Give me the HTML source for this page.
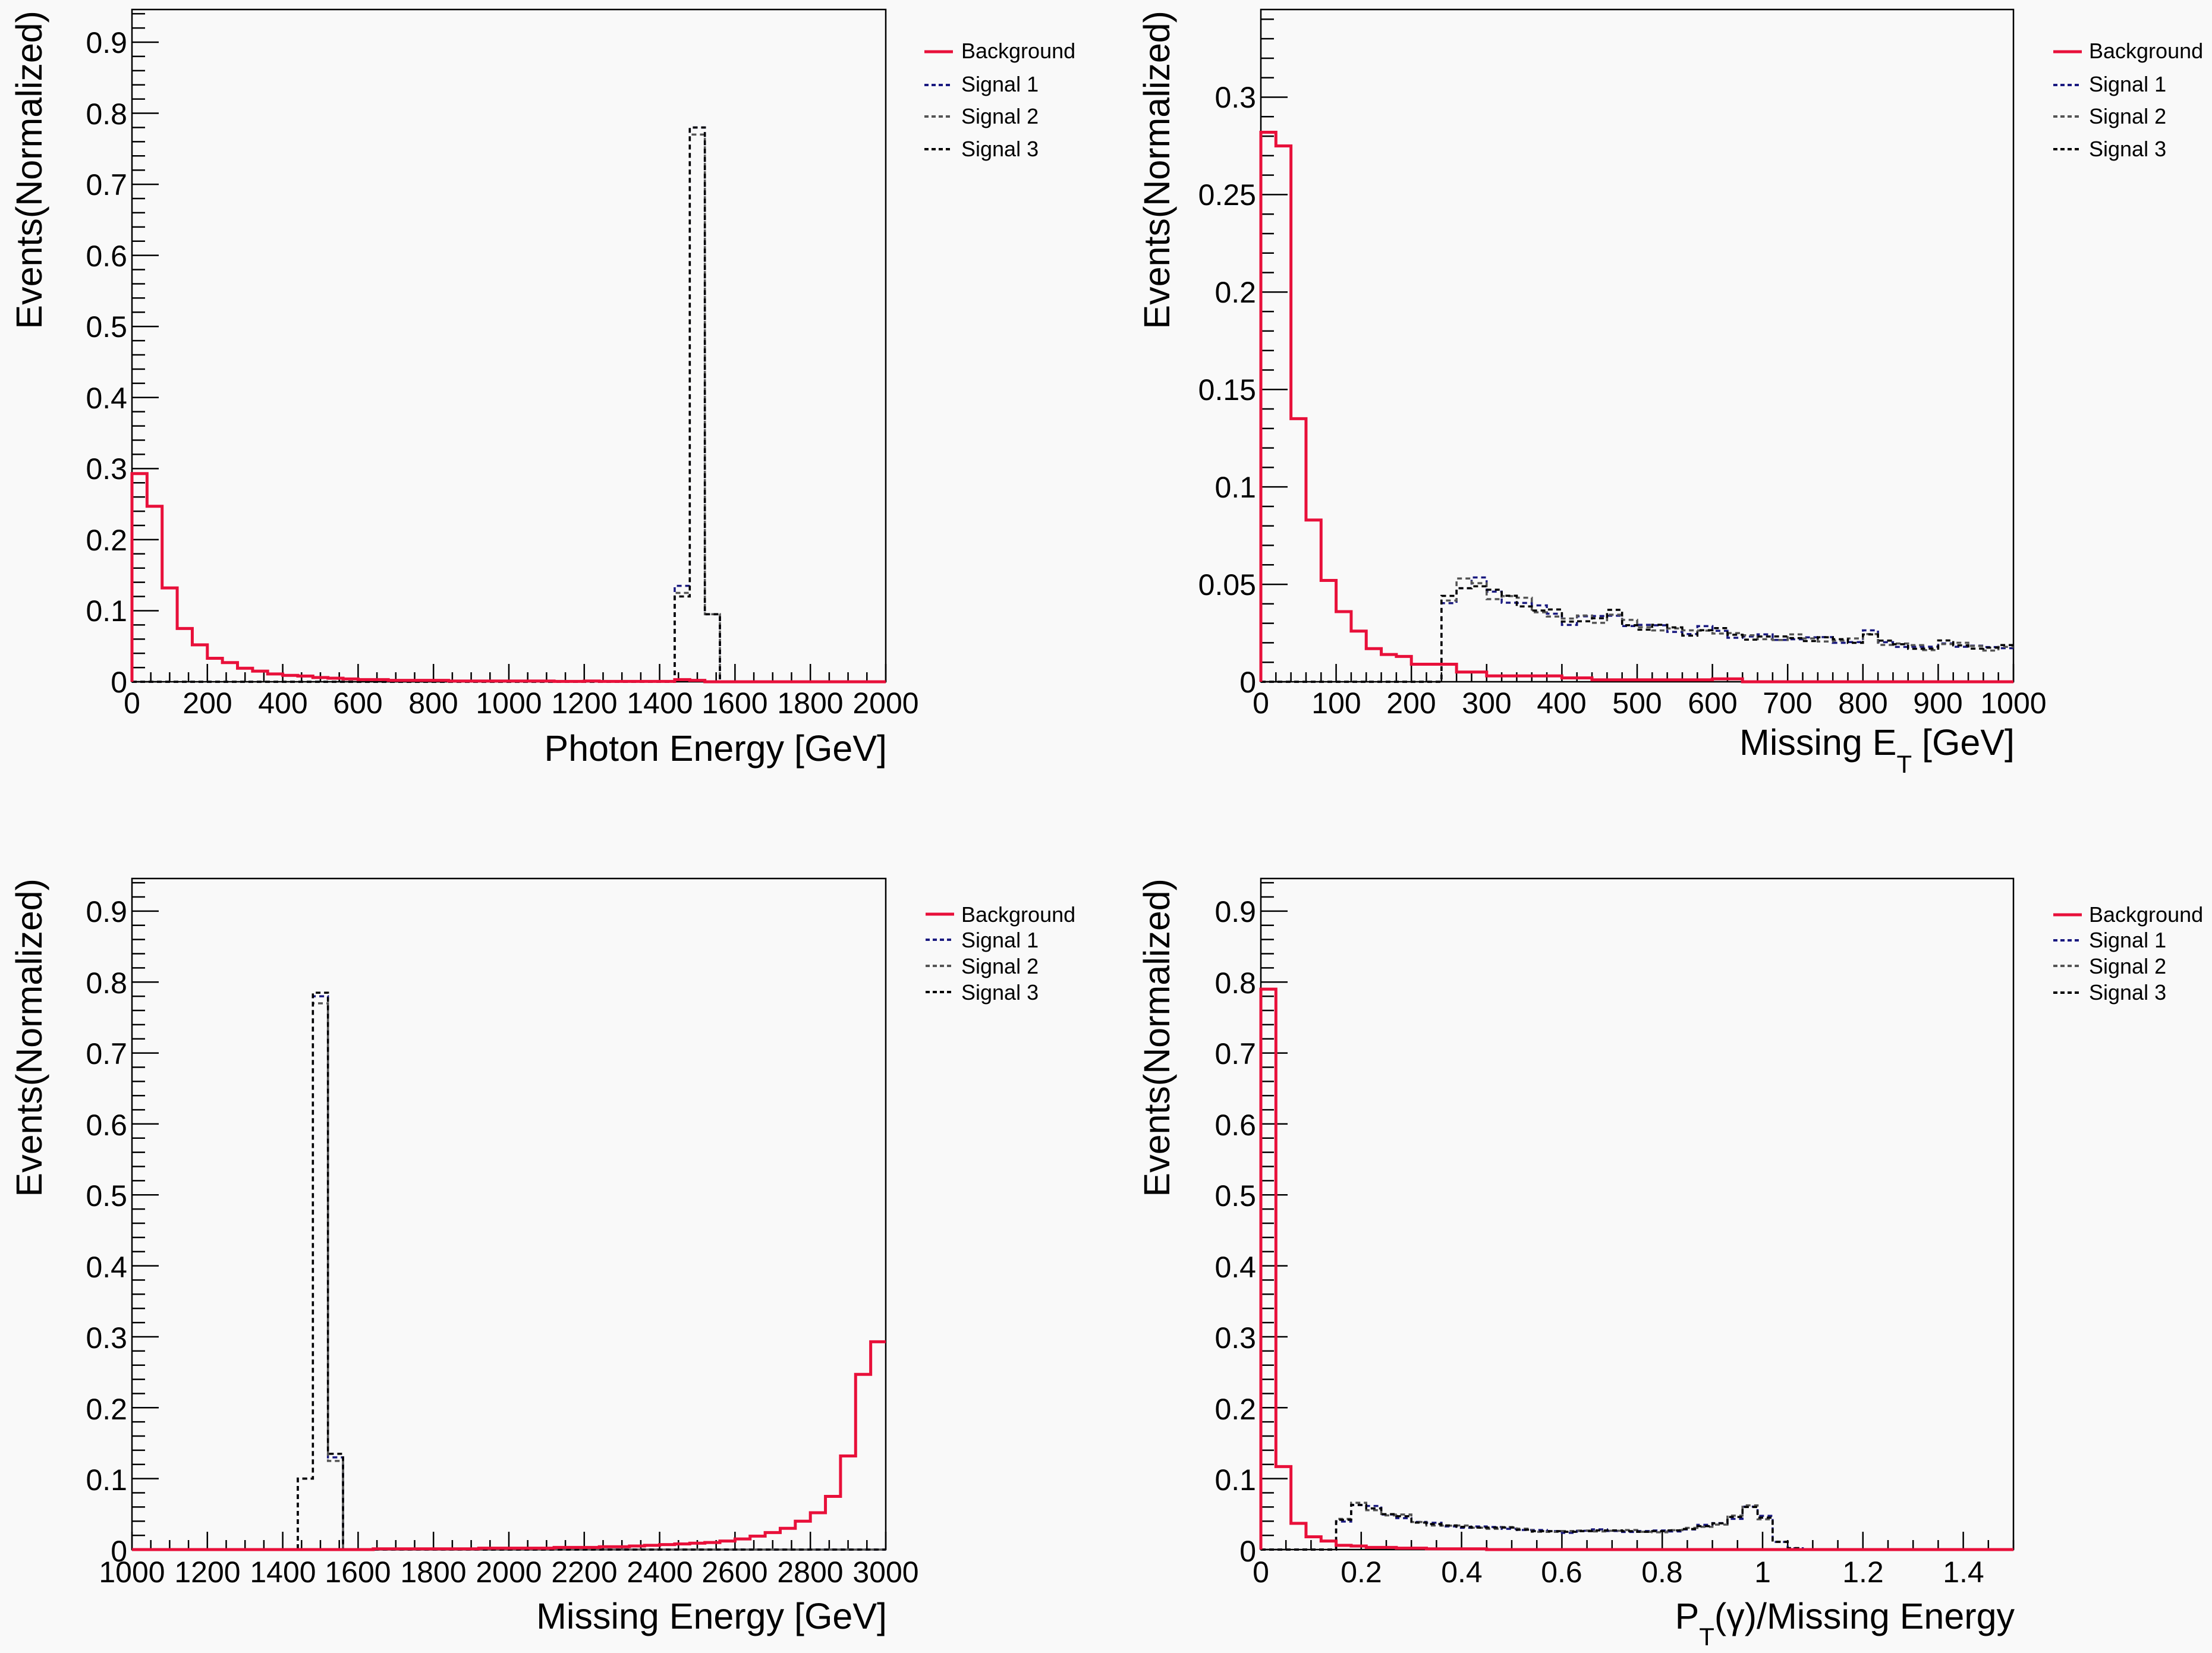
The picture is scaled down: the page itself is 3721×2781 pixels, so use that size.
<!DOCTYPE html>
<html><head><meta charset="utf-8"><style>
html,body{margin:0;padding:0;background:#f9f9f9;}
svg{display:block;}
text{font-family:"Liberation Sans",sans-serif;fill:#000;}
.tl{font-size:50px;}
.lg{font-size:36px;}
.at{font-size:61px;}
</style></head><body>
<svg id="s" width="3721" height="2781" viewBox="0 0 3721 2781" xmlns="http://www.w3.org/2000/svg">
<rect width="3721" height="2781" fill="#f9f9f9"/>
<g id="g"></g>
<g class="tl" text-anchor="end">
<text x="214" y="1165">0</text><text x="214" y="1045">0.1</text><text x="214" y="926">0.2</text><text x="214" y="806">0.3</text><text x="214" y="687">0.4</text><text x="214" y="567">0.5</text><text x="214" y="448">0.6</text><text x="214" y="328">0.7</text><text x="214" y="209">0.8</text><text x="214" y="89">0.9</text>
<text x="2113" y="1165">0</text><text x="2113" y="1001">0.05</text><text x="2113" y="837">0.1</text><text x="2113" y="673">0.15</text><text x="2113" y="509">0.2</text><text x="2113" y="345">0.25</text><text x="2113" y="181">0.3</text>
<text x="214" y="2627">0</text><text x="214" y="2507">0.1</text><text x="214" y="2388">0.2</text><text x="214" y="2268">0.3</text><text x="214" y="2149">0.4</text><text x="214" y="2029">0.5</text><text x="214" y="1910">0.6</text><text x="214" y="1790">0.7</text><text x="214" y="1671">0.8</text><text x="214" y="1551">0.9</text>
<text x="2113" y="2627">0</text><text x="2113" y="2507">0.1</text><text x="2113" y="2388">0.2</text><text x="2113" y="2268">0.3</text><text x="2113" y="2149">0.4</text><text x="2113" y="2029">0.5</text><text x="2113" y="1910">0.6</text><text x="2113" y="1790">0.7</text><text x="2113" y="1671">0.8</text><text x="2113" y="1551">0.9</text>
</g>
<g class="tl" text-anchor="middle">
<text x="222" y="1200">0</text><text x="349" y="1200">200</text><text x="476" y="1200">400</text><text x="602" y="1200">600</text><text x="729" y="1200">800</text><text x="856" y="1200">1000</text><text x="983" y="1200">1200</text><text x="1110" y="1200">1400</text><text x="1236" y="1200">1600</text><text x="1363" y="1200">1800</text><text x="1490" y="1200">2000</text>
<text x="2121" y="1200">0</text><text x="2248" y="1200">100</text><text x="2374" y="1200">200</text><text x="2501" y="1200">300</text><text x="2627" y="1200">400</text><text x="2754" y="1200">500</text><text x="2881" y="1200">600</text><text x="3007" y="1200">700</text><text x="3134" y="1200">800</text><text x="3260" y="1200">900</text><text x="3387" y="1200">1000</text>
<text x="222" y="2662">1000</text><text x="349" y="2662">1200</text><text x="476" y="2662">1400</text><text x="602" y="2662">1600</text><text x="729" y="2662">1800</text><text x="856" y="2662">2000</text><text x="983" y="2662">2200</text><text x="1110" y="2662">2400</text><text x="1236" y="2662">2600</text><text x="1363" y="2662">2800</text><text x="1490" y="2662">3000</text>
<text x="2121" y="2662">0</text><text x="2290" y="2662">0.2</text><text x="2459" y="2662">0.4</text><text x="2627" y="2662">0.6</text><text x="2796" y="2662">0.8</text><text x="2965" y="2662">1</text><text x="3134" y="2662">1.2</text><text x="3303" y="2662">1.4</text>
</g>
<g class="at" text-anchor="end">
<text x="1492" y="1280">Photon Energy [GeV]</text>
<text x="3389" y="1270">Missing E<tspan dy="30" style="font-size:42px">T</tspan><tspan dy="-30"> [GeV]</tspan></text>
<text x="1492" y="2740">Missing Energy [GeV]</text>
<text x="3389" y="2740">P<tspan dy="28" style="font-size:42px">T</tspan><tspan dy="-28">(γ)/Missing Energy</tspan></text>
<text transform="translate(70,18) rotate(-90)">Events(Normalized)</text>
<text transform="translate(1967,18) rotate(-90)">Events(Normalized)</text>
<text transform="translate(70,1478) rotate(-90)">Events(Normalized)</text>
<text transform="translate(1967,1478) rotate(-90)">Events(Normalized)</text>
</g>
<g class="lg">
<text x="1617" y="98">Background</text><text x="1617" y="154">Signal 1</text><text x="1617" y="208">Signal 2</text><text x="1617" y="263">Signal 3</text>
<text x="3514" y="98">Background</text><text x="3514" y="154">Signal 1</text><text x="3514" y="208">Signal 2</text><text x="3514" y="263">Signal 3</text>
<text x="1617" y="1551">Background</text><text x="1617" y="1594">Signal 1</text><text x="1617" y="1638">Signal 2</text><text x="1617" y="1682">Signal 3</text>
<text x="3514" y="1551">Background</text><text x="3514" y="1594">Signal 1</text><text x="3514" y="1638">Signal 2</text><text x="3514" y="1682">Signal 3</text>
</g>
</svg>
<script>
var NS="http://www.w3.org/2000/svg",G=document.getElementById("g");
function el(t,a){var e=document.createElementNS(NS,t);for(var k in a)e.setAttribute(k,a[k]);G.appendChild(e);return e;}
function panel(P){
 var L=P.L,R=P.R,T=P.T,B=P.B;
 function X(v){return L+(v-P.x0)/(P.x1-P.x0)*(R-L);}
 function Y(v){return B-v/P.ymax*(B-T);}
 var d="";
 for(var v=0;v<=P.ymax+1e-9;v+=P.ymin){var y=Y(v);var maj=Math.abs(v/P.ymaj-Math.round(v/P.ymaj))<1e-6;d+="M"+L+" "+y+"h"+(maj?45:22);}
 for(var i=0;;i++){var v=P.x0+i*P.xmin;if(v>P.x1+1e-9)break;var x=X(v);var maj=Math.abs((v-P.x0)/P.xmaj-Math.round((v-P.x0)/P.xmaj))<1e-6;d+="M"+x+" "+B+"v-"+(maj?30:16);}
 el("path",{d:d,stroke:"#000","stroke-width":2.5,fill:"none"});
 el("rect",{x:L,y:T,width:R-L,height:B-T,fill:"none",stroke:"#000","stroke-width":2.5});
 function hist(arr,style){var n=P.nb,w=(P.x1-P.x0)/n,p="M"+X(P.x0)+" "+Y(0);for(var i=0;i<n;i++){var v=arr[i]||0;p+="L"+X(P.x0+i*w)+" "+Y(v)+"L"+X(P.x0+(i+1)*w)+" "+Y(v);}var a={d:p,fill:"none"};for(var k in style)a[k]=style[k];el("path",a);}
 P.sig.forEach(function(s,j){hist(s,{stroke:["#1a1a80","#555","#000"][j],"stroke-width":3.5,"stroke-dasharray":"8 6"});});
 hist(P.bg,{stroke:"#e8103a","stroke-width":5});
 var ly=P.leg;el("path",{d:"M"+P.lx+" "+ly[0]+"h48",stroke:"#e8103a","stroke-width":5});
 for(var i=1;i<4;i++)el("path",{d:"M"+P.lx+" "+ly[i]+"h48",stroke:["","#1a1a80","#555","#000"][i],"stroke-width":4,"stroke-dasharray":"7 5"});
}
function z(n){var a=[];for(var i=0;i<n;i++)a.push(0);return a;}
var bg1=[0.293,0.247,0.132,0.075,0.052,0.033,0.027,0.019,0.015,0.011,0.009,0.008,0.006,0.005,0.004,0.003,0.003,0.002,0.002,0.002,0.002,0.001,0.001,0.001,0.001,0.001,0.001,0.001,0.0005,0.0005,0.001,0.0005,0.0005,0.0005,0.0005,0.0005,0.003,0.002].concat(z(12));
function s1(a,b,c){var s=z(50);s[36]=a;s[37]=b;s[38]=c;return s;}
panel({L:222,R:1490,T:16,B:1147,x0:0,x1:2000,ymax:0.946,ymaj:0.1,ymin:0.02,xmaj:200,xmin:50,nb:50,bg:bg1,sig:[s1(0.135,0.78,0.095),s1(0.125,0.77,0.095),s1(0.12,0.78,0.095)],lx:1555,leg:[87,143,196,251]});
var bg2=[0.282,0.275,0.135,0.083,0.052,0.036,0.026,0.017,0.014,0.013,0.009,0.009,0.009,0.005,0.005,0.003,0.003,0.003,0.003,0.003,0.002,0.002,0.001,0.001,0.001,0.001,0.001,0.001,0.001,0.001,0.0015,0.0015].concat(z(18));
var sg=[0,0,0,0,0,0,0,0,0,0,0,0,0.042,0.05,0.051,0.045,0.043,0.041,0.037,0.035,0.031,0.033,0.032,0.035,0.030,0.028,0.028,0.027,0.025,0.027,0.026,0.024,0.023,0.023,0.022,0.023,0.022,0.022,0.021,0.021,0.025,0.02,0.019,0.018,0.017,0.02,0.019,0.018,0.017,0.018];
function jit(a,k){return a.map(function(v,i){return v?v*(1+0.06*Math.sin(i*1.7+k*2.3)):0;});}
panel({L:2121,R:3387,T:16,B:1147,x0:0,x1:1000,ymax:0.345,ymaj:0.05,ymin:0.01,xmaj:100,xmin:20,nb:50,bg:bg2,sig:[jit(sg,1),jit(sg,2),jit(sg,3)],lx:3454,leg:[87,143,196,251]});
var bg3=z(50);var tail=[0.293,0.247,0.132,0.075,0.052,0.04,0.03,0.024,0.019,0.015,0.012,0.01,0.009,0.008,0.007,0.006,0.005,0.004,0.004,0.003,0.003,0.003,0.002,0.002,0.002,0.002,0.002,0.001,0.001,0.001,0.001,0.001,0.001,0.001];
for(var i=0;i<tail.length;i++)bg3[49-i]=tail[i];
function s3(a,b,c){var s=z(50);s[11]=a;s[12]=b;s[13]=c;return s;}
panel({L:222,R:1490,T:1478,B:2607,x0:1000,x1:3000,ymax:0.946,ymaj:0.1,ymin:0.02,xmaj:200,xmin:50,nb:50,bg:bg3,sig:[s3(0.1,0.78,0.13),s3(0.1,0.77,0.125),s3(0.1,0.785,0.135)],lx:1557,leg:[1538,1581,1625,1669]});
var bg4=[0.79,0.117,0.037,0.018,0.012,0.006,0.005,0.003,0.003,0.002,0.002,0.001,0.001,0.001,0.001].concat(z(35));
var s4=[0,0,0,0,0,0.042,0.063,0.058,0.05,0.047,0.038,0.036,0.034,0.032,0.031,0.031,0.031,0.028,0.026,0.026,0.025,0.026,0.027,0.027,0.026,0.025,0.026,0.027,0.029,0.033,0.037,0.046,0.06,0.045,0.011,0.002].concat(z(14));
panel({L:2121,R:3387,T:1478,B:2607,x0:0,x1:1.5,ymax:0.946,ymaj:0.1,ymin:0.02,xmaj:0.2,xmin:0.05,nb:50,bg:bg4,sig:[jit(s4,1),jit(s4,2),s4],lx:3454,leg:[1539,1582,1625,1670]});
</script>
</body></html>
